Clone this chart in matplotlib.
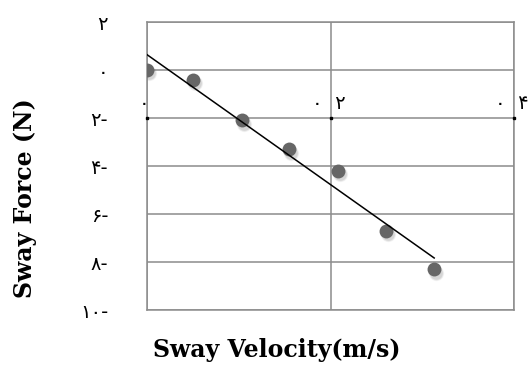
import numpy as np
import matplotlib
matplotlib.use('Agg')
import matplotlib.pyplot as plt

# sway velocity (m/s) and sway force (N)
velocity = [0.0, 0.05, 0.103, 0.155, 0.208, 0.26, 0.313]
force = [0.0, -0.4, -2.1, -3.3, -4.2, -6.7, -8.3]

y_ticks = [2, 0, -2, -4, -6, -8, -10]
y_tick_labels = ['۲', '۰', '۲-', '۴-', '۶-', '۸-', '۱۰-']
x_ticks = [0.0, 0.2, 0.4]
x_tick_labels = ['۰', '۰  ۲', '۰  ۴']

grid_c = '#8c8c8c'
dot_c = '#666666'

fig = plt.figure(figsize=(5.31, 3.67), dpi=100)
ax = fig.add_axes([147 / 531, 1 - 310 / 367, (514 - 147) / 531, (310 - 22) / 367])

ax.set_xlim(0, 0.4)
ax.set_ylim(-10, 2)

# grid
for yv in y_ticks:
    ax.axhline(yv, color=grid_c, lw=1.1, zorder=1)
for xv in x_ticks:
    ax.axvline(xv, color=grid_c, lw=1.1, zorder=1)
for s in ax.spines.values():
    s.set_color(grid_c)
    s.set_linewidth(1.1)

# soft shadow under the points
shift = matplotlib.transforms.ScaledTranslation(1.5 / 72, -2.5 / 72, fig.dpi_scale_trans)
for k, a in enumerate([0.06, 0.08, 0.10]):
    ax.plot(velocity, force, 'o', ms=11 - k, color='#444444', alpha=a,
            mec='none', zorder=2, transform=ax.transData + shift)
ax.plot(velocity, force, 'o', ms=10, color=dot_c, mec='none', zorder=3)

# linear trend line
coef = np.polyfit(velocity, force, 1)
xs = np.array([velocity[0], velocity[-1]])
ax.plot(xs, np.polyval(coef, xs), color='black', lw=1.1, zorder=4)

# y ticks
ax.set_yticks(y_ticks)
ax.set_yticklabels(y_tick_labels, fontsize=14, family='DejaVu Sans')
ax.tick_params(axis='y', length=0, pad=28)
ax.set_xticks([])

# x tick labels sit on the -2 line
for xv, lab in zip(x_ticks, x_tick_labels):
    ax.plot(xv, -2, 's', ms=2, color='black', zorder=5, clip_on=False)
    ax.text(xv - 0.002 if xv > 0 else -0.003, -2 + 0.2, lab, ha='center', va='bottom',
            fontsize=14, family='DejaVu Sans')

fig.text(277 / 531, 1 - 350 / 367, 'Sway Velocity(m/s)', ha='center', va='center',
         fontsize=17, fontweight='bold', family='DejaVu Serif')
fig.text(25 / 531, 1 - 198 / 367, 'Sway Force (N)', ha='center', va='center',
         rotation=90, fontsize=17, fontweight='bold', family='DejaVu Serif')

fig.savefig('out.png', dpi=100)
